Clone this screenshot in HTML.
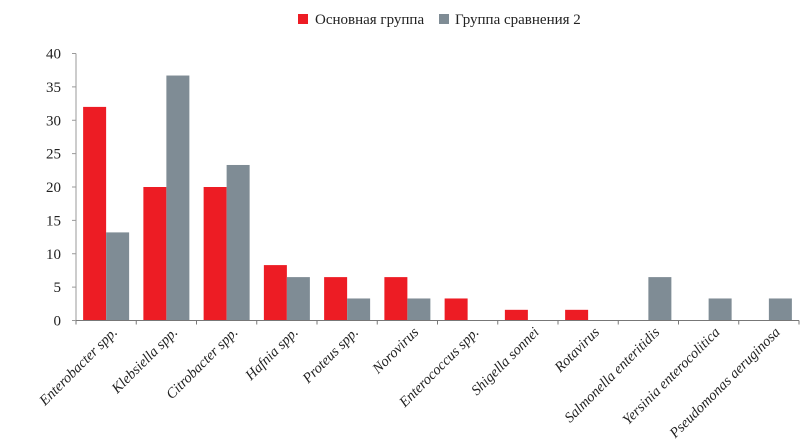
<!DOCTYPE html>
<html><head><meta charset="utf-8"><style>
body{margin:0;background:#fff}
svg{display:block}
text{font-family:"Liberation Serif","DejaVu Serif",serif;fill:#222}
</style></head><body>
<svg id="chart" width="800" height="440" viewBox="0 0 800 440">
<g id="legend">
<rect x="298" y="14" width="10" height="10" fill="#ED1C24"/>
<text x="315" y="24" font-size="15">Основная группа</text>
<rect x="439" y="14" width="10" height="10" fill="#7F8C95"/>
<text x="455" y="24" font-size="15">Группа сравнения 2</text>
</g>
<g id="plot"></g>
</svg>
<script>
const categories=["Enterobacter spp.","Klebsiella spp.","Citrobacter spp.","Hafnia spp.","Proteus spp.","Norovirus","Enterococcus spp.","Shigella sonnei","Rotavirus","Salmonella enteritidis","Yersinia enterocolitica","Pseudomonas aeruginosa"];
const mainGroup=[32,20,20,8.3,6.5,6.5,3.3,1.6,1.6,0,0,0];
const compareGroup=[13.2,36.7,23.3,6.5,3.3,3.3,0,0,0,6.5,3.3,3.3];
const yTicks=[0,5,10,15,20,25,30,35,40];

const X0=76,X1=799,Y0=320.5,Y1=53.5,YMAX=40;
const band=(X1-X0)/categories.length;
const y=v=>Y0-(v/YMAX)*(Y0-Y1);
const xc=i=>X0+band*(i+0.5);
const NS="http://www.w3.org/2000/svg";
const g=document.getElementById('plot');
function mk(t,a){const e=document.createElementNS(NS,t);for(const k in a)e.setAttribute(k,a[k]);g.appendChild(e);return e;}
const bw=23;
categories.forEach((c,i)=>{
  const cx=xc(i);
  const r=mk('rect',{x:cx-bw,y:y(mainGroup[i]),width:bw,height:Y0-y(mainGroup[i]),fill:'#ED1C24'});
  
  
  const b=mk('rect',{x:cx,y:y(compareGroup[i]),width:bw,height:Y0-y(compareGroup[i]),fill:'#7F8C95'});
  
  
  const t=mk('text',{x:cx+12,y:333,'font-size':14.5,'font-style':'italic','text-anchor':'end',transform:`rotate(-45 ${cx+12} 333)`});
  t.textContent=c;
  
  
});
const ax=mk('line',{x1:X0,y1:Y1,x2:X0,y2:Y0,stroke:'#999','stroke-width':1});


const xa=mk('line',{x1:X0,y1:Y0,x2:X1,y2:Y0,stroke:'#777','stroke-width':1});


for(let i=0;i<=categories.length;i++){
  const xx=X0+band*i;
  const tk=mk('line',{x1:xx,y1:Y0,x2:xx,y2:Y0+4,stroke:'#777'});
  
  
}
yTicks.forEach(v=>{
  const tk=mk('line',{x1:X0-4,y1:y(v),x2:X0,y2:y(v),stroke:'#999'});
  
  
  const t=mk('text',{x:61,y:y(v)+5,'font-size':15,'text-anchor':'end'});
  t.textContent=v;
  
  
});
</script>
</body></html>
